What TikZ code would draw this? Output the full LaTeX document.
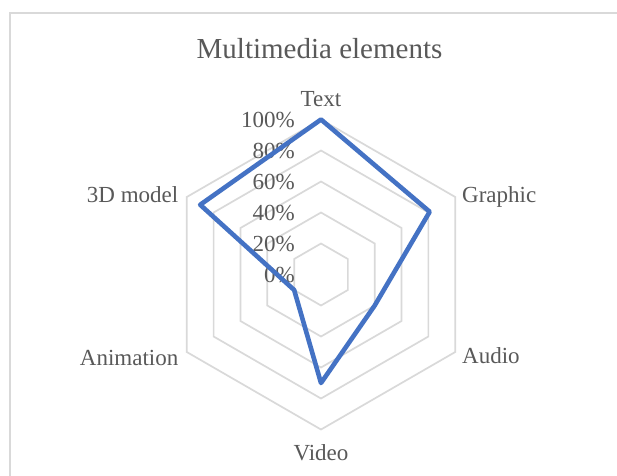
\documentclass[tikz,border=0pt]{standalone}
\usepackage{fontspec}
\usetikzlibrary{calc}
\setmainfont{Liberation Serif}
\definecolor{gridgray}{HTML}{D9D9D9}
\definecolor{txtgray}{HTML}{595959}
\definecolor{serblue}{HTML}{4472C4}
\begin{document}
\begin{tikzpicture}[x=1pt,y=-1pt,
  lbl/.style={inner sep=0pt, text=txtgray, font=\fontsize{23}{27}\selectfont},
  pct/.style={lbl, anchor=base east},
  titletext/.style={inner sep=0pt, text=txtgray, font=\fontsize{29}{33}\selectfont, anchor=base},
  gridline/.style={draw=gridgray, line width=1.7pt},
  frameline/.style={draw=gridgray, line width=2pt},
  series/.style={draw=serblue, line width=4.6pt, line join=round}]
\useasboundingbox (0,0) rectangle (617,475);
\fill[white] (0,0) rectangle (617,475);
% chart frame
\coordinate (fbl) at (10,480);
\coordinate (ftr) at (625,13);
\draw[frameline] (fbl) |- (ftr);
% centre
\coordinate (O) at (321,274.5);
% grid hexagons
\foreach \r in {31,62,93,124,155}{
  \draw[gridline, shift={(O)}] (-90:\r) -- (-30:\r) -- (30:\r) -- (90:\r) -- (150:\r) -- (210:\r) -- cycle;
}
% title
\node[titletext] (title) at (319.5,58) {Multimedia elements};
% axis labels
\node[lbl, anchor=base] (lText) at (321,106) {Text};
\node[lbl, anchor=base west] (lGraphic) at (462,202) {Graphic};
\node[lbl, anchor=base west] (lAudio) at (462,363.5) {Audio};
\node[lbl, anchor=base] (lVideo) at (321,460) {Video};
\node[lbl, anchor=base east] (lAnim) at (178.5,365) {Animation};
\node[lbl, anchor=base east] (l3D) at (178.5,202) {3D model};
% percentage labels
\node[pct] (p100) at (295,127) {100\%};
\node[pct] (p80) at (295,158) {80\%};
\node[pct] (p60) at (295,189) {60\%};
\node[pct] (p40) at (295,220) {40\%};
\node[pct] (p20) at (295,251) {20\%};
\node[pct] (p0) at (295,282) {0\%};
% data points
\coordinate (dText) at ($(O)+(-90:155)$);
\coordinate (dGraphic) at ($(O)+(-30:125.5)$);
\coordinate (dAudio) at ($(O)+(30:62)$);
\coordinate (dVideo) at ($(O)+(90:108.5)$);
\coordinate (dAnim) at ($(O)+(150:31)$);
\coordinate (d3D) at ($(O)+(210:139.5)$);
\draw[series] (dText) -- (dGraphic) -- (dAudio) -- (dVideo) -- (dAnim) -- (d3D) -- cycle;
\end{tikzpicture}
\end{document}
